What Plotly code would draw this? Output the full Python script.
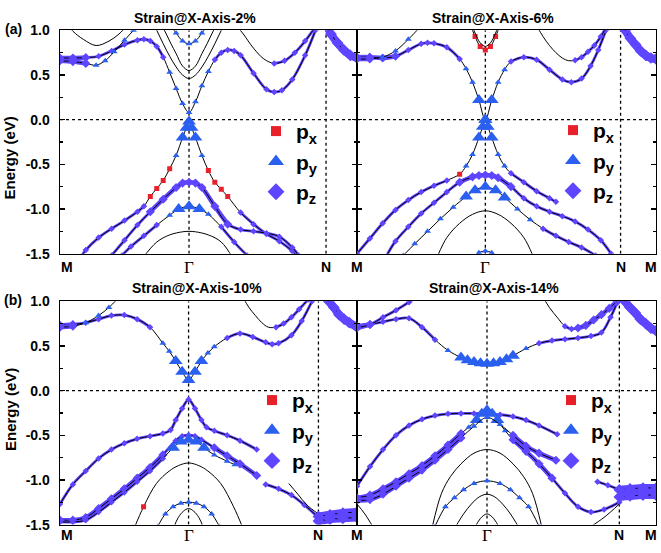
import plotly.graph_objects as go

# ===================== DATA =====================
# k-path positions of M, Gamma, N, M (Gamma-M distance = 1) for each panel
A1_KPTS = [0, 1, 2.062, 2.302]
A2_KPTS = [0, 1, 2.054, 2.33]
B1_KPTS = [0, 1, 2.01, 2.31]
B2_KPTS = [0, 1, 2.018, 2.30]
KPT_LABELS = ["M", "Γ", "N", "M"]

PANEL_TITLES = ["Strain@X-Axis-2%", "Strain@X-Axis-6%", "Strain@X-Axis-10%", "Strain@X-Axis-14%"]
ROW_LABELS = ["(a)", "(b)"]
Y_TICKS = [-1.5, -1.0, -0.5, 0.0, 0.5, 1.0]
Y_TICK_LABELS = ["-1.5", "-1.0", "-0.5", "0.0", "0.5", "1.0"]
Y_MINOR = [-1.25, -0.75, -0.25, 0.25, 0.75]
E_RANGE = [-1.5, 1.0]
Y_TITLE = "Energy (eV)"
ORBITAL_NAMES = ["p<sub>x</sub>", "p<sub>y</sub>", "p<sub>z</sub>"]

# Orbital code per point: x/y/z = px/py/pz weight (upper case = strong), '-' = none
# ---- (a) 2% ----
A1_C1_K = [0, 0.1, 0.2, 0.3, 0.4, 0.5, 0.6, 0.65, 0.7, 0.75, 0.8, 0.85, 0.9, 0.95, 1.0, 1.05, 1.1, 1.15, 1.2, 1.25, 1.3, 1.35, 1.4, 1.5, 1.6, 1.66, 1.72, 1.8, 1.9, 1.98]
A1_C1_E = [0.69, 0.69, 0.695, 0.71, 0.77, 0.84, 0.89, 0.90, 0.88, 0.82, 0.70, 0.53, 0.35, 0.18, 0.08, 0.2, 0.38, 0.54, 0.67, 0.75, 0.78, 0.77, 0.72, 0.52, 0.34, 0.31, 0.33, 0.45, 0.72, 1.0]
A1_C1_O = "ZZZzzzzzzzzyyyyyyyzzzzzzzzzzzz"
A1_C2_K = [0, 0.1, 0.2, 0.28, 0.35, 0.42, 0.5, 0.57]
A1_C2_E = [0.66, 0.65, 0.63, 0.61, 0.66, 0.76, 0.89, 1.0]
A1_C2_O = "ZZZyyyyy"
A1_C3_K = [0.05, 0.1, 0.18, 0.28, 0.38, 0.45, 0.5]
A1_C3_E = [1.08, 0.99, 0.9, 0.83, 0.88, 0.95, 1.02]
A1_C3_O = "-------"
A1_C4_K = [0.7, 0.75, 0.8, 0.85, 0.9, 0.95, 1.0, 1.05, 1.1, 1.15, 1.2, 1.25, 1.3]
A1_C4_E = [1.15, 1.0, 0.85, 0.71, 0.59, 0.5, 0.46, 0.5, 0.59, 0.71, 0.85, 1.0, 1.15]
A1_C4_O = "-------------"
A1_C5_K = [0.78, 0.82, 0.86, 0.9, 0.95, 1.0, 1.05, 1.1, 1.14, 1.18, 1.22]
A1_C5_E = [1.08, 0.97, 0.85, 0.74, 0.6, 0.55, 0.6, 0.74, 0.85, 0.97, 1.08]
A1_C5_O = "-----------"
A1_C6_K = [0.85, 0.9, 0.95, 1.0, 1.05, 1.1, 1.15]
A1_C6_E = [1.07, 0.97, 0.88, 0.85, 0.88, 0.97, 1.07]
A1_C6_O = "yyyyyyy"
A1_C7_K = [1.37, 1.42, 1.5, 1.58, 1.66, 1.74, 1.82, 1.9, 1.97]
A1_C7_E = [1.05, 0.96, 0.8, 0.68, 0.63, 0.66, 0.75, 0.88, 1.02]
A1_C7_O = "----zzzzz"
A1_NM_K = [2.062, 2.1, 2.15, 2.2, 2.25, 2.302]
A1_NM_E = [1.08, 0.96, 0.86, 0.78, 0.72, 0.69]
A1_NM_O = "WWWWWW"
A1_V1_K = [0.15, 0.2, 0.3, 0.4, 0.5, 0.6, 0.65, 0.7, 0.75, 0.8, 0.85, 0.9, 0.95, 0.98, 1.0, 1.02, 1.05, 1.1, 1.15, 1.2, 1.25, 1.3, 1.4, 1.5, 1.6, 1.7, 1.8, 1.85]
A1_V1_E = [-1.56, -1.46, -1.32, -1.22, -1.13, -1.03, -0.97, -0.86, -0.77, -0.68, -0.55, -0.4, -0.2, -0.09, -0.02, -0.09, -0.2, -0.4, -0.57, -0.7, -0.78, -0.86, -1.04, -1.17, -1.28, -1.36, -1.47, -1.54]
A1_V1_O = "zzzzzzzxxxxyYYYYYyxxxxzzzzzz"
A1_V2_K = [0.4, 0.5, 0.6, 0.7, 0.8, 0.9, 0.95, 1.0, 1.05, 1.1, 1.2, 1.3, 1.4, 1.5, 1.6, 1.7, 1.8, 1.85]
A1_V2_E = [-1.52, -1.35, -1.18, -1.03, -0.89, -0.76, -0.71, -0.70, -0.71, -0.76, -0.97, -1.17, -1.23, -1.25, -1.27, -1.31, -1.43, -1.52]
A1_V2_O = "zzzZZZZZZZZZzzzzzz"
A1_V3_K = [0.48, 0.55, 0.65, 0.75, 0.85, 0.92, 1.0, 1.08, 1.15, 1.25, 1.35, 1.45]
A1_V3_E = [-1.52, -1.42, -1.30, -1.18, -1.07, -1.0, -0.97, -1.0, -1.06, -1.2, -1.37, -1.52]
A1_V3_O = "zzzzyYYYyzzz"
A1_V4_K = [0.64, 0.75, 0.85, 0.95, 1.0, 1.05, 1.15, 1.25, 1.34]
A1_V4_E = [-1.55, -1.37, -1.29, -1.255, -1.25, -1.255, -1.29, -1.37, -1.55]
A1_V4_O = "---------"

# ---- (a) 6% ----
A2_C1_K = [0, 0.1, 0.2, 0.3, 0.4, 0.5, 0.55, 0.6, 0.7, 0.8, 0.85, 0.9, 0.95, 1.0, 1.05, 1.1, 1.15, 1.2, 1.3, 1.4, 1.5, 1.6, 1.67, 1.75, 1.82, 1.88, 1.94]
A2_C1_E = [0.70, 0.70, 0.69, 0.71, 0.78, 0.85, 0.86, 0.855, 0.81, 0.68, 0.57, 0.42, 0.22, 0.0, 0.22, 0.42, 0.56, 0.65, 0.70, 0.67, 0.56, 0.45, 0.42, 0.46, 0.6, 0.78, 1.0]
A2_C1_O = "ZZZZzzzzzzyyYYYyyzzzzzzzzzz"
A2_C2_K = [0, 0.1, 0.2, 0.3, 0.4, 0.5]
A2_C2_E = [0.68, 0.68, 0.7, 0.77, 0.9, 1.05]
A2_C2_O = "ZZyyyy"
A2_C3_K = [0.88, 0.92, 0.96, 1.0, 1.04, 1.08, 1.12]
A2_C3_E = [1.08, 0.93, 0.82, 0.78, 0.82, 0.93, 1.08]
A2_C3_O = "xxxxxxx"
A2_C3B_K = [0.88, 0.92, 0.96, 1.0, 1.04, 1.08, 1.12]
A2_C3B_E = [1.12, 0.97, 0.86, 0.82, 0.86, 0.97, 1.12]
A2_C3B_O = "-------"
A2_C4_K = [1.4, 1.45, 1.5, 1.55, 1.6, 1.65, 1.7, 1.75, 1.8, 1.85, 1.9, 1.94]
A2_C4_E = [1.05, 0.93, 0.83, 0.75, 0.69, 0.66, 0.665, 0.7, 0.76, 0.83, 0.93, 1.03]
A2_C4_O = "------zzzzzz"
A2_NM_K = [2.054, 2.09, 2.13, 2.17, 2.21, 2.25, 2.29, 2.33]
A2_NM_E = [1.1, 1.0, 0.91, 0.84, 0.77, 0.72, 0.69, 0.68]
A2_NM_O = "WWWWWWWW"
A2_V1_K = [0, 0.1, 0.2, 0.3, 0.4, 0.5, 0.6, 0.7, 0.8, 0.85, 0.9, 0.95, 0.98, 1.0, 1.02, 1.05, 1.1, 1.15, 1.2, 1.3, 1.4, 1.5, 1.55]
A2_V1_E = [-1.5, -1.33, -1.16, -1.01, -0.9, -0.81, -0.74, -0.68, -0.61, -0.52, -0.39, -0.2, -0.08, 0.0, -0.08, -0.2, -0.39, -0.52, -0.6, -0.7, -0.8, -0.88, -0.92]
A2_V1_O = "zzzzzzzzxyyYYYYYyyzzzzz"
A2_V2_K = [0.22, 0.3, 0.4, 0.5, 0.6, 0.7, 0.8, 0.9, 0.95, 1.0, 1.05, 1.1, 1.2, 1.3, 1.4, 1.5, 1.6, 1.7, 1.8, 1.9, 1.98]
A2_V2_E = [-1.55, -1.36, -1.2, -1.05, -0.93, -0.81, -0.7, -0.64, -0.625, -0.62, -0.625, -0.65, -0.75, -0.88, -0.97, -1.03, -1.08, -1.14, -1.23, -1.35, -1.5]
A2_V2_O = "zzzzzzZZZZZZZzzzzzzzz"
A2_V3_K = [0.36, 0.45, 0.55, 0.65, 0.75, 0.85, 0.92, 1.0, 1.08, 1.15, 1.25, 1.35, 1.45, 1.55, 1.65, 1.75, 1.86]
A2_V3_E = [-1.52, -1.39, -1.25, -1.11, -0.98, -0.86, -0.79, -0.75, -0.79, -0.87, -1.0, -1.12, -1.22, -1.3, -1.37, -1.43, -1.52]
A2_V3_O = "yyyyyYYYYYyyzzzzz"
A2_V4_K = [0.63, 0.7, 0.8, 0.9, 1.0, 1.1, 1.2, 1.3, 1.37]
A2_V4_E = [-1.52, -1.32, -1.16, -1.06, -1.02, -1.06, -1.16, -1.32, -1.52]
A2_V4_O = "---------"
A2_V5_K = [0.9, 0.95, 1.0, 1.05, 1.1]
A2_V5_E = [-1.55, -1.49, -1.47, -1.49, -1.55]
A2_V5_O = "yyyyy"

# ---- (b) 10% ----
B1_C1_K = [0, 0.1, 0.2, 0.3, 0.4, 0.5, 0.6, 0.7, 0.8, 0.85, 0.9, 0.95, 1.0, 1.05, 1.1, 1.15, 1.2, 1.3, 1.4, 1.5, 1.6, 1.65, 1.7, 1.8, 1.88, 1.96]
B1_C1_E = [0.73, 0.74, 0.76, 0.8, 0.84, 0.845, 0.80, 0.71, 0.53, 0.44, 0.33, 0.21, 0.12, 0.21, 0.33, 0.42, 0.49, 0.59, 0.64, 0.6, 0.54, 0.52, 0.53, 0.62, 0.78, 1.0]
B1_C1_O = "ZZzzzzzzyyYYYYYyyzzzzzzzzz"
B1_C2_K = [0, 0.1, 0.2, 0.3, 0.38, 0.45]
B1_C2_E = [0.71, 0.72, 0.76, 0.84, 0.93, 1.03]
B1_C2_O = "ZZyyyy"
B1_C3_K = [1.42, 1.47, 1.52, 1.57, 1.62, 1.68, 1.74, 1.8, 1.86, 1.93]
B1_C3_E = [1.05, 0.93, 0.84, 0.76, 0.71, 0.71, 0.75, 0.82, 0.91, 1.02]
B1_C3_O = "-----zzzzz"
B1_NM_K = [2.01, 2.05, 2.09, 2.13, 2.17, 2.21, 2.25, 2.31]
B1_NM_E = [1.15, 1.07, 1.0, 0.93, 0.85, 0.8, 0.76, 0.71]
B1_NM_O = "WWWWWWWW"
B1_V1_K = [0, 0.1, 0.2, 0.3, 0.4, 0.5, 0.6, 0.7, 0.8, 0.86, 0.9, 0.95, 1.0, 1.05, 1.1, 1.14, 1.2, 1.3, 1.4, 1.53]
B1_V1_E = [-1.27, -1.05, -0.9, -0.76, -0.66, -0.59, -0.54, -0.51, -0.48, -0.44, -0.33, -0.2, -0.1, -0.2, -0.33, -0.41, -0.45, -0.5, -0.56, -0.66]
B1_V1_O = "zzzzzzzzzzzzzzzzzzzz"
B1_V1B_K = [1.6, 1.7, 1.8, 1.9, 2.01]
B1_V1B_E = [-1.05, -1.1, -1.17, -1.28, -1.42]
B1_V1B_O = "zzzzz"
B1_V1C_K = [1.78, 1.85, 1.92, 2.01]
B1_V1C_E = [-1.04, -1.16, -1.28, -1.38]
B1_V1C_O = "----"
B1_V2_K = [0, 0.1, 0.2, 0.3, 0.4, 0.5, 0.6, 0.7, 0.8, 0.9, 0.95, 1.0, 1.05, 1.1, 1.2, 1.3, 1.4, 1.53]
B1_V2_E = [-1.45, -1.45, -1.42, -1.32, -1.21, -1.1, -0.98, -0.86, -0.72, -0.56, -0.51, -0.5, -0.51, -0.55, -0.64, -0.73, -0.82, -0.95]
B1_V2_O = "ZZZZZZZZZzzzzzZZZZ"
B1_V3_K = [0, 0.1, 0.2, 0.3, 0.4, 0.5, 0.6, 0.7, 0.8, 0.88, 0.94, 1.0, 1.06, 1.12, 1.2, 1.3, 1.36]
B1_V3_E = [-1.47, -1.47, -1.45, -1.36, -1.25, -1.14, -1.02, -0.9, -0.76, -0.64, -0.57, -0.55, -0.57, -0.64, -0.72, -0.79, -0.83]
B1_V3_O = "zzzzzzzzzYYYYYyyy"
B1_V4_K = [0.58, 0.65, 0.75, 0.85, 0.92, 1.0, 1.08, 1.15, 1.25, 1.35, 1.42]
B1_V4_E = [-1.53, -1.3, -1.04, -0.9, -0.84, -0.81, -0.84, -0.9, -1.04, -1.3, -1.53]
B1_V4_O = "xx---------"
B1_V5_K = [0.76, 0.82, 0.88, 0.94, 1.0, 1.06, 1.12, 1.18, 1.24]
B1_V5_E = [-1.52, -1.38, -1.3, -1.26, -1.25, -1.26, -1.3, -1.38, -1.52]
B1_V5_O = "yyyyyyyyy"
B1_V6_K = [0.88, 0.92, 0.96, 1.0, 1.04, 1.08, 1.12]
B1_V6_E = [-1.55, -1.42, -1.35, -1.32, -1.35, -1.42, -1.55]
B1_V6_O = "-------"
B1_NM1_K = [2.01, 2.1, 2.2, 2.31]
B1_NM1_E = [-1.41, -1.39, -1.37, -1.36]
B1_NM1_O = "WWWW"
B1_NM2_K = [2.01, 2.1, 2.2, 2.31]
B1_NM2_E = [-1.46, -1.44, -1.43, -1.42]
B1_NM2_O = "WWWW"

# ---- (b) 14% ----
B2_C1_K = [0, 0.1, 0.2, 0.3, 0.4, 0.5, 0.6, 0.7, 0.8, 0.85, 0.9, 0.95, 1.0, 1.05, 1.1, 1.15, 1.2, 1.3, 1.4, 1.5, 1.6, 1.7, 1.8, 1.88, 1.95, 2.0]
B2_C1_E = [0.72, 0.74, 0.77, 0.80, 0.81, 0.71, 0.57, 0.45, 0.37, 0.34, 0.32, 0.305, 0.30, 0.305, 0.32, 0.35, 0.39, 0.47, 0.53, 0.56, 0.575, 0.59, 0.61, 0.65, 0.82, 0.98]
B2_C1_O = "ZZzzzzzyYYYYYYYYYyzzzzzzzz"
B2_C2_K = [0, 0.1, 0.2, 0.3, 0.4, 0.45]
B2_C2_E = [0.7, 0.74, 0.82, 0.9, 0.99, 1.04]
B2_C2_O = "ZZzzzz"
B2_C3_K = [1.43, 1.48, 1.54, 1.6, 1.65, 1.7, 1.76, 1.82, 1.88, 1.94, 2.0]
B2_C3_E = [1.05, 0.93, 0.82, 0.72, 0.69, 0.7, 0.73, 0.79, 0.85, 0.92, 1.0]
B2_C3_O = "---zzZZZZZZ"
B2_NM_K = [2.018, 2.06, 2.1, 2.14, 2.18, 2.22, 2.26, 2.3]
B2_NM_E = [1.1, 1.0, 0.93, 0.87, 0.8, 0.75, 0.7, 0.67]
B2_NM_O = "WWWWWWWW"
B2_VA_K = [0, 0.1, 0.2, 0.3, 0.4, 0.5, 0.6, 0.7, 0.8, 0.9, 1.0, 1.1, 1.2, 1.3, 1.4, 1.54]
B2_VA_E = [-1.07, -0.85, -0.66, -0.5, -0.39, -0.32, -0.28, -0.26, -0.255, -0.255, -0.26, -0.27, -0.29, -0.33, -0.39, -0.49]
B2_VA_O = "zzzzzzzzzzzzzzzz"
B2_V1_K = [0, 0.1, 0.2, 0.3, 0.4, 0.5, 0.6, 0.7, 0.8, 0.86, 0.92, 0.96, 1.0, 1.04, 1.08, 1.14, 1.2, 1.3, 1.4, 1.5, 1.6, 1.7, 1.8, 1.9, 2.018]
B2_V1_E = [-1.2, -1.17, -1.1, -1.02, -0.93, -0.84, -0.73, -0.61, -0.48, -0.41, -0.33, -0.26, -0.22, -0.26, -0.33, -0.45, -0.55, -0.68, -0.82, -0.98, -1.15, -1.3, -1.36, -1.33, -1.25]
B2_V1_O = "ZZZZZZZZZyYYYYYyZZZZzzzzz"
B2_V3_K = [0, 0.1, 0.2, 0.3, 0.4, 0.5, 0.6, 0.7, 0.8, 0.9, 1.0, 1.1, 1.2, 1.3, 1.4, 1.53]
B2_V3_E = [-1.23, -1.22, -1.16, -1.07, -0.98, -0.89, -0.78, -0.66, -0.53, -0.4, -0.3, -0.38, -0.5, -0.62, -0.7, -0.78]
B2_V3_O = "ZZZZZZZZZyyyZZZZ"
B2_V4_K = [0.58, 0.65, 0.72, 0.8, 0.9, 1.0, 1.1, 1.2, 1.28, 1.35, 1.42]
B2_V4_E = [-1.52, -1.15, -0.96, -0.82, -0.7, -0.66, -0.7, -0.82, -0.96, -1.15, -1.52]
B2_V4_O = "-----------"
B2_V5_K = [0.6, 0.68, 0.75, 0.82, 0.9, 1.0, 1.1, 1.18, 1.25, 1.32, 1.4]
B2_V5_E = [-1.52, -1.3, -1.2, -1.11, -1.04, -1.01, -1.04, -1.11, -1.2, -1.3, -1.52]
B2_V5_O = "yyyyyyyyyyy"
B2_V6_K = [0.76, 0.82, 0.88, 0.94, 1.0, 1.06, 1.12, 1.18, 1.24]
B2_V6_E = [-1.52, -1.38, -1.27, -1.19, -1.16, -1.19, -1.27, -1.38, -1.52]
B2_V6_O = "---------"
B2_V7_K = [0.9, 0.95, 1.0, 1.05, 1.1]
B2_V7_E = [-1.55, -1.43, -1.38, -1.43, -1.55]
B2_V7_O = "-----"
B2_V8_K = [0, 0.06, 0.12]
B2_V8_E = [-1.27, -1.38, -1.52]
B2_V8_O = "---"
B2_V9_K = [1.8, 1.9, 2.018]
B2_V9_E = [-1.52, -1.42, -1.27]
B2_V9_O = "---"
B2_V10_K = [1.85, 1.93, 2.018]
B2_V10_E = [-1.02, -1.06, -1.11]
B2_V10_O = "zzz"
B2_NM1_K = [2.018, 2.1, 2.2, 2.3]
B2_NM1_E = [-1.11, -1.1, -1.09, -1.09]
B2_NM1_O = "WWWW"
B2_NM2_K = [2.018, 2.1, 2.2, 2.3]
B2_NM2_E = [-1.19, -1.18, -1.17, -1.17]
B2_NM2_O = "WWWW"

PANEL_KPTS = [A1_KPTS, A2_KPTS, B1_KPTS, B2_KPTS]
PANEL_BANDS = [
    [(A1_C1_K, A1_C1_E, A1_C1_O), (A1_C2_K, A1_C2_E, A1_C2_O), (A1_C3_K, A1_C3_E, A1_C3_O),
     (A1_C4_K, A1_C4_E, A1_C4_O), (A1_C5_K, A1_C5_E, A1_C5_O), (A1_C6_K, A1_C6_E, A1_C6_O),
     (A1_C7_K, A1_C7_E, A1_C7_O), (A1_NM_K, A1_NM_E, A1_NM_O), (A1_V1_K, A1_V1_E, A1_V1_O),
     (A1_V2_K, A1_V2_E, A1_V2_O), (A1_V3_K, A1_V3_E, A1_V3_O), (A1_V4_K, A1_V4_E, A1_V4_O)],
    [(A2_C1_K, A2_C1_E, A2_C1_O), (A2_C2_K, A2_C2_E, A2_C2_O), (A2_C3_K, A2_C3_E, A2_C3_O),
     (A2_C3B_K, A2_C3B_E, A2_C3B_O), (A2_C4_K, A2_C4_E, A2_C4_O), (A2_NM_K, A2_NM_E, A2_NM_O),
     (A2_V1_K, A2_V1_E, A2_V1_O), (A2_V2_K, A2_V2_E, A2_V2_O), (A2_V3_K, A2_V3_E, A2_V3_O),
     (A2_V4_K, A2_V4_E, A2_V4_O), (A2_V5_K, A2_V5_E, A2_V5_O)],
    [(B1_C1_K, B1_C1_E, B1_C1_O), (B1_C2_K, B1_C2_E, B1_C2_O), (B1_C3_K, B1_C3_E, B1_C3_O),
     (B1_NM_K, B1_NM_E, B1_NM_O), (B1_V1_K, B1_V1_E, B1_V1_O), (B1_V1B_K, B1_V1B_E, B1_V1B_O),
     (B1_V1C_K, B1_V1C_E, B1_V1C_O), (B1_V2_K, B1_V2_E, B1_V2_O), (B1_V3_K, B1_V3_E, B1_V3_O),
     (B1_V4_K, B1_V4_E, B1_V4_O), (B1_V5_K, B1_V5_E, B1_V5_O), (B1_V6_K, B1_V6_E, B1_V6_O),
     (B1_NM1_K, B1_NM1_E, B1_NM1_O), (B1_NM2_K, B1_NM2_E, B1_NM2_O)],
    [(B2_C1_K, B2_C1_E, B2_C1_O), (B2_C2_K, B2_C2_E, B2_C2_O), (B2_C3_K, B2_C3_E, B2_C3_O),
     (B2_NM_K, B2_NM_E, B2_NM_O), (B2_VA_K, B2_VA_E, B2_VA_O), (B2_V1_K, B2_V1_E, B2_V1_O),
     (B2_V3_K, B2_V3_E, B2_V3_O), (B2_V4_K, B2_V4_E, B2_V4_O), (B2_V5_K, B2_V5_E, B2_V5_O),
     (B2_V6_K, B2_V6_E, B2_V6_O), (B2_V7_K, B2_V7_E, B2_V7_O), (B2_V8_K, B2_V8_E, B2_V8_O),
     (B2_V9_K, B2_V9_E, B2_V9_O), (B2_V10_K, B2_V10_E, B2_V10_O),
     (B2_NM1_K, B2_NM1_E, B2_NM1_O), (B2_NM2_K, B2_NM2_E, B2_NM2_O)],
]

# ===================== STYLE =====================
FIG_W, FIG_H = 661, 553
SANS = "Liberation Sans, Arial, sans-serif"
SERIF = "Liberation Serif, Times New Roman, serif"
PX_COL = "#E8202A"
PY_COL = "#2A5FF0"
PZ_COL = "#5E45FF"
# panel pixel boxes: (left, right, top, bottom)
BOXES = [(60, 357, 23, 253), (357, 656, 23, 253), (60, 357, 302, 532), (357, 656, 302, 532)]
TITLE_POS = [(195, 10), (493, 10), (197, 288), (494, 288)]
LEGEND_POS = [(275, 131), (572, 130), (271, 408), (570, 408)]
XLAB_Y = [267, 267, 543, 543]
END_LABEL_X = 651
ROWLAB_POS = [(13, 22), (13, 301)]
YTITLE_POS = [(10, 155), (10, 414)]

MSTYLE = {
    "x": ("square", PX_COL, 5), "X": ("square", PX_COL, 8),
    "y": ("triangle-up", PY_COL, 6), "Y": ("triangle-up", PY_COL, 12),
    "z": ("diamond", PZ_COL, 5), "Z": ("diamond", PZ_COL, 7),
    "W": ("diamond", PZ_COL, 9),
}
UNDERLAY = [("zZW", 2.8), ("ZW", 4.5), ("W", 8)]


def pxx(p):
    return p / FIG_W


def pxy(p):
    return 1 - p / FIG_H


fig = go.Figure()
layout = dict(width=FIG_W, height=FIG_H, margin=dict(l=0, r=0, t=0, b=0),
              paper_bgcolor="white", plot_bgcolor="white", showlegend=True)
shapes, annotations = [], []

for i in range(4):
    n = "" if i == 0 else str(i + 1)
    xa, ya = "x" + n, "y" + n
    kp = PANEL_KPTS[i]
    l, r, t, b = BOXES[i]
    layout["xaxis" + n] = dict(domain=[pxx(l), pxx(r)], range=[kp[0], kp[3]], anchor=ya,
                               showline=True, linecolor="black", linewidth=1.4, mirror=True,
                               showgrid=False, zeroline=False, showticklabels=False, ticks="")
    layout["yaxis" + n] = dict(domain=[pxy(b), pxy(t)], range=E_RANGE, anchor=xa,
                               showline=True, linecolor="black", linewidth=1.4, mirror="ticks",
                               showgrid=False, zeroline=False, ticks="inside", ticklen=5,
                               tickwidth=1.2, tickcolor="black",
                               tickvals=Y_TICKS, ticktext=["<b>%s</b>" % s for s in Y_TICK_LABELS],
                               showticklabels=(i % 2 == 0), ticklabelstandoff=6,
                               tickfont=dict(family=SANS, size=14, color="black"),
                               minor=dict(tickvals=Y_MINOR, ticks="inside", ticklen=3,
                                          tickwidth=1.2, tickcolor="black"))
    # dotted guides
    dot = dict(color="black", width=1.3, dash="3px,3px")
    shapes.append(dict(type="line", xref=xa, yref=ya, x0=kp[0], x1=kp[3], y0=0, y1=0, line=dot, layer="below"))
    for kv in (kp[1], kp[2]):
        shapes.append(dict(type="line", xref=xa, yref=ya, x0=kv, x1=kv, y0=E_RANGE[0], y1=E_RANGE[1],
                           line=dot, layer="below"))

    # bands
    for K, E, O in PANEL_BANDS[i]:
        for chars, w in UNDERLAY:
            ey = [e if c in chars else None for e, c in zip(E, O)]
            if sum(v is not None for v in ey) >= 2:
                fig.add_trace(go.Scatter(x=K, y=ey, mode="lines", xaxis=xa, yaxis=ya,
                                         line=dict(color=PZ_COL, width=w, shape="spline"),
                                         connectgaps=False, showlegend=False, hoverinfo="skip"))
        fig.add_trace(go.Scatter(x=K, y=E, mode="lines", xaxis=xa, yaxis=ya,
                                 line=dict(color="black", width=1.0, shape="spline"),
                                 showlegend=False, hoverinfo="skip"))
        for code in "zZWxXyY":
            kk = [k for k, c in zip(K, O) if c == code]
            ee = [e for e, c in zip(E, O) if c == code]
            if kk:
                sym, col, sz = MSTYLE[code]
                fig.add_trace(go.Scatter(x=kk, y=ee, mode="markers", xaxis=xa, yaxis=ya,
                                         marker=dict(symbol=sym, color=col, size=sz, line=dict(width=0)),
                                         showlegend=False, hoverinfo="skip"))

    # legend entries
    lg = "legend" + n
    for (sym, col, sz), name in zip([("square", PX_COL, 10), ("triangle-up", PY_COL, 14), ("diamond", PZ_COL, 13)],
                                    ORBITAL_NAMES):
        fig.add_trace(go.Scatter(x=[None], y=[None], mode="markers", xaxis=xa, yaxis=ya,
                                 marker=dict(symbol=sym, color=col, size=sz), name="<b>%s</b>" % name,
                                 legend=lg, showlegend=True))
    lx, ly = LEGEND_POS[i]
    layout[lg] = dict(x=pxx(lx - 19), y=pxy(ly - 25), xanchor="left", yanchor="top",
                      bgcolor="rgba(0,0,0,0)", borderwidth=0, itemsizing="trace",
                      font=dict(family=SANS, size=21, color="black"), tracegroupgap=0)

    # titles
    tx, ty = TITLE_POS[i]
    annotations.append(dict(text="<b>%s</b>" % PANEL_TITLES[i], xref="paper", yref="paper",
                            x=pxx(tx), y=pxy(ty), xanchor="center", yanchor="middle", showarrow=False,
                            font=dict(family=SANS, size=14, color="black")))
    # k-point labels
    lab_y = pxy(XLAB_Y[i])
    for j, (kv, lab) in enumerate(zip(kp, KPT_LABELS)):
        if i % 2 == 1 and j == 0:
            continue
        if lab == "Γ":
            txt, fnt = lab, dict(family=SERIF, size=17, color="black")
        else:
            txt, fnt = "<b>%s</b>" % lab, dict(family=SANS, size=14, color="black")
        ann = dict(text=txt, xref=xa, yref="paper", x=kv, y=lab_y, xanchor="center",
                   yanchor="middle", showarrow=False, font=fnt)
        if j == 0:
            ann.update(xanchor="left", xshift=-1)
        if j == 3 and i % 2 == 1:
            ann.update(xref="paper", x=pxx(END_LABEL_X))
        annotations.append(ann)

for (rx, ry), rl in zip(ROWLAB_POS, ROW_LABELS):
    annotations.append(dict(text="<b>%s</b>" % rl, xref="paper", yref="paper", x=pxx(rx), y=pxy(ry),
                            xanchor="center", yanchor="middle", showarrow=False,
                            font=dict(family=SANS, size=14, color="black")))
for (yx, yy) in YTITLE_POS:
    annotations.append(dict(text="<b>%s</b>" % Y_TITLE, xref="paper", yref="paper", x=pxx(yx), y=pxy(yy),
                            xanchor="center", yanchor="middle", textangle=-90, showarrow=False,
                            font=dict(family=SANS, size=15, color="black")))

layout["shapes"] = shapes
layout["annotations"] = annotations
fig.update_layout(**layout)
fig.write_html("out.html", config={"displayModeBar": False, "staticPlot": True},
               post_script="document.body.style.margin='0px';")
